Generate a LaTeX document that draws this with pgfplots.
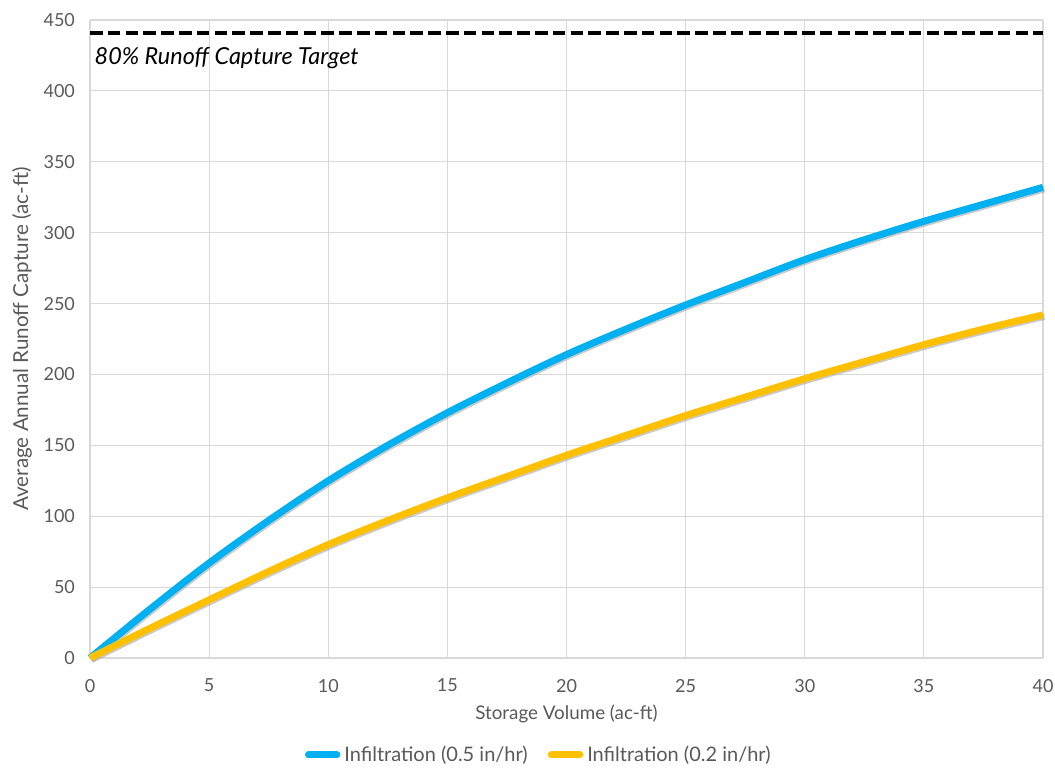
\documentclass[border=0pt]{standalone}
\usepackage{fontspec}
\setmainfont{Lato}
\usepackage{pgfplots}
\pgfplotsset{compat=1.18}
\definecolor{cblue}{HTML}{00B0F0}
\definecolor{cyell}{HTML}{FFC000}
\definecolor{tgray}{HTML}{595959}
\definecolor{ggray}{HTML}{D9D9D9}
\begin{document}
\begin{tikzpicture}
\useasboundingbox (-45pt,-54.5pt) rectangle (482.5pt,329pt);
\begin{axis}[
  at={(0,0)}, anchor=south west,
  scale only axis,
  width=476.5pt, height=319pt,
  xmin=0, xmax=40, ymin=0, ymax=450,
  xtick={0,5,...,40}, ytick={0,50,...,450},
  grid=major,
  major grid style={ggray, line width=0.6pt},
  axis line style={draw=none},
  tick style={draw=none},
  axis x line*=bottom,
  axis y line*=left,
  font=\fontsize{9}{11}\selectfont,
  ticklabel style={text=tgray},
  /pgf/number format/assume math mode=true,
  xticklabel style={yshift=-7pt},
  yticklabel style={xshift=-4pt},
  xlabel={Storage Volume (ac-ft)},
  ylabel={Average Annual Runoff Capture (ac-ft)},
  label style={text=tgray},
  xlabel style={at={(axis description cs:0.5,0)}, anchor=center, yshift=-28pt, font=\fontsize{9.4}{11}\selectfont},
  ylabel style={at={(axis description cs:0,0.5)}, anchor=center, rotate=0, yshift=34pt, font=\fontsize{10.3}{12}\selectfont},
  legend style={at={(axis description cs:0.472,-0.152)}, anchor=center, draw=none, fill=none,
    legend columns=2, font=\fontsize{10}{12}\selectfont, text=tgray,
    /tikz/every even column/.append style={column sep=8pt}},
  legend image code/.code={\draw[#1, line cap=round] (0cm,0cm) -- (0.5cm,0cm);},
  clip=false,
]
\draw[ggray, line width=0.8pt] (axis cs:0,0) -- (axis cs:40,0);
\addplot[black, line width=2pt, dash pattern=on 6.3pt off 2.6pt, forget plot] coordinates {(0,441) (40,441)};
\node[anchor=west, font=\fontsize{11.7}{13}\selectfont\itshape, text=black] at (axis cs:-0.1,423) {80\% Runoff Capture Target};
% shadows
\addplot[black!35, opacity=0.6, line width=3.5pt, smooth, forget plot, transform canvas={shift={(0.6pt,-0.8pt)}}] coordinates {
(0,0) (2.5,34.2) (5,67) (7.5,97) (10,125) (12.5,150) (15,173) (17.5,194) (20,214) (22.5,232) (25,249) (27.5,265) (30,281) (32.5,295) (35,308) (37.5,320) (40,332)};
\addplot[black!35, opacity=0.6, line width=3.5pt, smooth, forget plot, transform canvas={shift={(0.6pt,-0.8pt)}}] coordinates {
(0,0) (2.5,20.8) (5,41) (7.5,61) (10,80) (12.5,97) (15,113) (17.5,128) (20,143) (22.5,157) (25,171) (27.5,184) (30,197) (32.5,209) (35,221) (37.5,232) (40,242)};
\addplot[cblue, line width=3.5pt, smooth] coordinates {
(0,0) (2.5,34.2) (5,67) (7.5,97) (10,125) (12.5,150) (15,173) (17.5,194) (20,214) (22.5,232) (25,249) (27.5,265) (30,281) (32.5,295) (35,308) (37.5,320) (40,332)};
\addlegendentry{Infiltration (0.5 in/hr)}
\addplot[cyell, line width=3.5pt, smooth] coordinates {
(0,0) (2.5,20.8) (5,41) (7.5,61) (10,80) (12.5,97) (15,113) (17.5,128) (20,143) (22.5,157) (25,171) (27.5,184) (30,197) (32.5,209) (35,221) (37.5,232) (40,242)};
\addlegendentry{Infiltration (0.2 in/hr)}
\end{axis}
\end{tikzpicture}
\end{document}
